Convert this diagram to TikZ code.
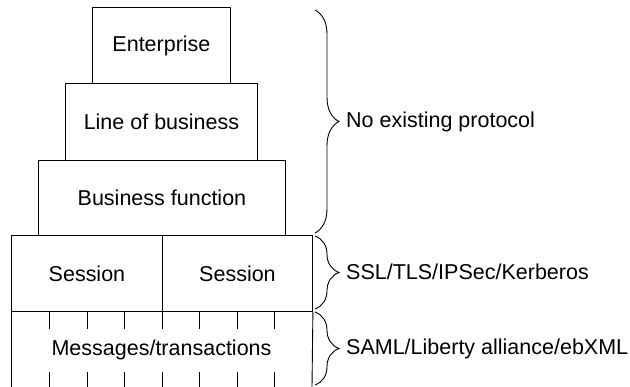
\documentclass[tikz,border=0pt]{standalone}
\usepackage{fontspec}
\setmainfont{Liberation Sans}
\usetikzlibrary{decorations.pathreplacing}
\begin{document}
\begin{tikzpicture}[x=1pt,y=-1pt,
  layer/.style={draw,line width=0.9pt,inner sep=0pt,anchor=north west,
    font=\fontsize{21.5}{25}\selectfont},
  tick/.style={line width=0.9pt},
  curly/.style={line width=0.9pt,decorate,decoration={brace,amplitude=24pt}},
  note/.style={anchor=west,inner sep=0pt,font=\fontsize{21.5}{25}\selectfont}]
\useasboundingbox (0,0) rectangle (630,387);

% stacked layers
\node[layer,minimum width=138pt,minimum height=76pt] (ent) at (92,7) {Enterprise};
\node[layer,minimum width=192pt,minimum height=77pt] (lob) at (65,83) {Line of business};
\node[layer,minimum width=247pt,minimum height=75pt] (bf) at (38,160) {Business function};
\node[layer,minimum width=151pt,minimum height=76pt] (s1) at (11,235) {Session};
\node[layer,minimum width=150pt,minimum height=76pt] (s2) at (162,235) {Session};

% open-bottom message layer
\coordinate (mbl) at (11,387);
\coordinate (mbr) at (312,387);
\draw[tick] (s1.south west) -- (mbl);
\draw[tick] (s2.south east) -- (mbr);
\node[inner sep=0pt,font=\fontsize{21.5}{25}\selectfont] (msg) at (161.5,350) {Messages/transactions};
\foreach \x in {49,87,124,162,199,237,274}{
  \draw[tick] (\x,311) -- (\x,329);
  \draw[tick] (\x,372) -- (\x,387);
}

% braces and protocol labels
\coordinate (b1t) at (315,10);  \coordinate (b1b) at (315,233);
\coordinate (b2t) at (315,236); \coordinate (b2b) at (315,309);
\coordinate (b3t) at (315,312); \coordinate (b3b) at (315,385);
\draw[curly] (b1t) -- (b1b);
\draw[curly] (b2t) -- (b2b);
\draw[curly] (b3t) -- (b3b);
\node[note] (p1) at (346,122) {No existing protocol};
\node[note] (p2) at (346,272) {SSL/TLS/IPSec/Kerberos};
\node[note] (p3) at (346,349) {SAML/Liberty alliance/ebXML};
\end{tikzpicture}
\end{document}
